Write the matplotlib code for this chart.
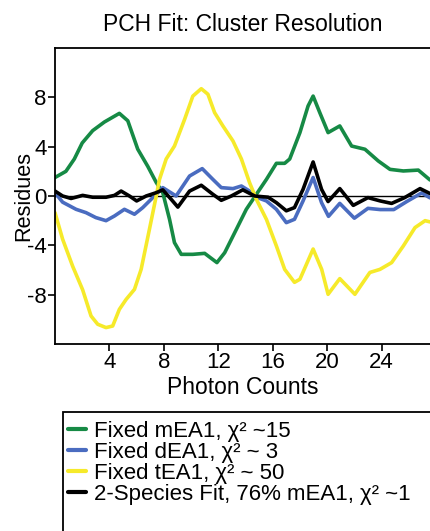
import numpy as np
import matplotlib
matplotlib.use("Agg")
import matplotlib.pyplot as plt
from matplotlib.patches import Rectangle

plt.rcParams['font.family'] = ['Liberation Sans', 'DejaVu Sans']
plt.rcParams['axes.unicode_minus'] = False

# residues, (photon count, residue)
green_x = [0, 0.8, 1.42, 2.0, 2.77, 3.63, 4.73, 5.35, 6.08, 6.82, 7.44, 7.92, 8.42, 8.78, 9.28,
           10.13, 11.0, 11.9, 12.47, 13.33, 14.06, 14.8, 15.54, 16.27, 16.88, 17.25, 18.0,
           18.6, 18.97, 19.46, 20.07, 20.93, 21.8, 22.78, 23.76, 24.62, 25.6, 26.7, 27.56]
green_y = [1.5, 2.0, 3.0, 4.3, 5.3, 6.0, 6.7, 6.1, 3.8, 2.4, 1.1, 0.27, -1.9, -3.78, -4.73,
           -4.73, -4.65, -5.4, -4.6, -2.7, -1.08, 0.14, 1.35, 2.65, 2.65, 3.0, 5.14,
           7.3, 8.1, 6.76, 5.14, 5.68, 4.05, 3.79, 2.84, 2.16, 2.03, 2.1, 1.3]

blue_x = [0, 0.56, 1.55, 2.28, 3.0, 3.75, 4.37, 5.1, 5.84, 6.45, 7.44, 7.92, 8.9,
          9.89, 10.82, 11.6, 12.22, 13.08, 13.7, 14.3, 14.8, 15.54, 16.27, 17.0, 17.6, 18.23,
          18.97, 19.59, 20.1, 20.93, 22.0, 23.0, 23.9, 24.9, 25.85, 26.95, 27.56]
blue_y = [0.27, -0.5, -1.08, -1.35, -1.75, -2.0, -1.62, -1.08, -1.48, -0.94, 0.14, 0.68, 0.0,
          1.62, 2.22, 1.35, 0.68, 0.6, 0.81, 0.4, -0.1, -0.4, -1.08, -2.16, -1.89, -0.4,
          1.5, -0.54, -1.65, -0.6, -1.8, -1.0, -1.1, -1.1, -0.45, 0.25, -0.15]

yellow_x = [0, 0.56, 1.3, 2.03, 2.65, 3.14, 3.75, 4.24, 4.73, 5.23, 5.84, 6.33, 6.94, 7.44,
            7.68, 8.17, 8.78, 9.52, 10.13, 10.75, 11.24, 11.73, 12.34, 13.08, 13.7, 14.3, 14.8,
            15.54, 16.27, 16.88, 17.6, 18.0, 18.97, 19.6, 20.07, 20.93, 22.04, 23.14, 23.88,
            24.74, 25.6, 26.46, 27.2, 27.56]
yellow_y = [-1.35, -3.5, -5.7, -7.6, -9.73, -10.4, -10.67, -10.54, -9.19, -8.38, -7.57, -5.95, -2.7, 0.0,
            1.35, 3.0, 4.05, 6.2, 8.1, 8.7, 8.25, 6.76, 5.68, 4.46, 3.0, 1.08, -0.27,
            -1.9, -4.05, -5.95, -7.0, -6.75, -4.3, -5.95, -7.97, -6.7, -7.97, -6.2, -5.95,
            -5.4, -4.05, -2.56, -2.0, -2.1]

black_x = [0, 0.56, 1.18, 2.03, 2.77, 3.75, 4.37, 4.86, 5.47, 6.0, 6.7, 7.44, 7.92, 8.54, 9.03,
           9.89, 10.75, 11.6, 12.22, 12.96, 13.8, 14.68, 15.66, 16.27, 17.0, 17.6, 18.23,
           18.97, 19.59, 20.07, 20.93, 21.92, 23.0, 23.9, 24.74, 25.7, 26.83, 27.56]
black_y = [0.4, 0.0, -0.2, 0.05, -0.1, -0.1, 0.05, 0.4, 0.0, -0.4, 0.0, 0.27, 0.5, -0.27, -0.9,
           0.4, 0.87, 0.14, -0.35, 0.0, 0.5, 0.0, -0.1, -0.54, -1.2, -0.94, 0.54,
           2.76, 0.54, -0.45, 0.6, -0.76, -0.13, -0.4, -0.6, -0.13, 0.6, 0.2]

labels = ["Fixed mEA1, χ² ~15", "Fixed dEA1, χ² ~ 3", "Fixed tEA1, χ² ~ 50",
          "2-Species Fit, 76% mEA1, χ² ~1"]
colors = ["#168a45", "#4a6cc0", "#f6ea2a", "black"]

fig = plt.figure(figsize=(4.30, 5.31), dpi=100)
ax = fig.add_axes([55 / 430, 1 - 344 / 531, 1 - 55 / 430, (344 - 48) / 531])

ax.axhline(0, color="black", lw=1.0, zorder=1)
series = [(green_x, green_y), (blue_x, blue_y), (yellow_x, yellow_y), (black_x, black_y)]
handles = []
for (xs, ys), c, lab in zip(series, colors, labels):
    h, = ax.plot(xs, ys, color=c, lw=2.6, label=lab, solid_joinstyle="round",
                 solid_capstyle="round", zorder=2)
    handles.append(h)

ax.set_xlim(0, 27.56)
ax.set_ylim(-12, 12)
ax.set_xticks([4, 8, 12, 16, 20, 24])
ax.set_yticks([-8, -4, 0, 4, 8])
ax.tick_params(direction="out", length=5, width=1.2, labelsize=16, pad=1)
for s in ["left", "top", "bottom"]:
    ax.spines[s].set_linewidth(1.3)
ax.spines["right"].set_visible(False)

ax.set_title("PCH Fit: Cluster Resolution", fontsize=16.5, pad=12)
ax.set_xlabel("Photon Counts", fontsize=16.5, labelpad=2)
ax.set_ylabel("Residues", fontsize=15.6, labelpad=-5)

leg = fig.legend(handles=handles, loc="upper left", bbox_to_anchor=(66 / 430, 1 - 419 / 531),
                 frameon=False, fontsize=16, handlelength=0.8, handletextpad=0.35,
                 labelspacing=0.0, borderaxespad=0, borderpad=0.1)
for line in leg.get_lines():
    line.set_linewidth(3)

fig.patches.append(Rectangle((63 / 430, -0.1), 1.0, 1 - 411.5 / 531 + 0.1,
                             transform=fig.transFigure, fill=False, lw=1.3,
                             edgecolor="black"))

fig.savefig("out.png", dpi=100)
